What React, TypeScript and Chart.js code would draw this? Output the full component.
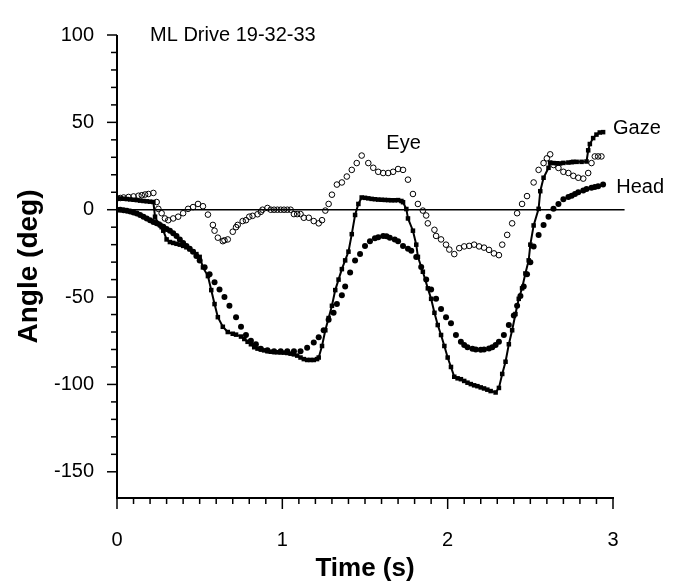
import React, { useEffect, useRef } from 'react';
import { Chart, registerables } from 'chart.js';

Chart.register(...registerables);

// ---------- data ----------
const gazeTime = [0.00,0.02,0.04,0.06,0.08,0.10,0.12,0.14,0.16,0.18,0.20,0.22,0.23,0.25,0.27,0.28,0.30,0.32,0.34,0.36,0.38,0.40,0.42,0.44,0.46,0.48,0.50,0.52,0.55,0.57,0.59,0.61,0.64,0.67,0.70,0.72,0.75,0.77,0.79,0.81,0.83,0.85,0.87,0.89,0.91,0.93,0.95,0.97,0.99,1.01,1.03,1.05,1.07,1.09,1.11,1.13,1.15,1.17,1.19,1.21,1.22,1.24,1.26,1.28,1.30,1.32,1.34,1.36,1.38,1.40,1.42,1.44,1.46,1.48,1.50,1.52,1.54,1.56,1.58,1.60,1.62,1.64,1.66,1.68,1.70,1.72,1.73,1.75,1.76,1.79,1.81,1.82,1.85,1.88,1.90,1.92,1.94,1.96,1.98,2.00,2.02,2.04,2.06,2.08,2.10,2.12,2.14,2.16,2.18,2.20,2.22,2.24,2.26,2.29,2.31,2.33,2.35,2.37,2.39,2.41,2.43,2.45,2.47,2.49,2.50,2.52,2.55,2.56,2.58,2.61,2.62,2.64,2.66,2.68,2.70,2.73,2.75,2.76,2.78,2.81,2.84,2.85,2.86,2.88,2.90,2.92,2.94];
const gazeAngle = [6.5,6.4,6.3,6.1,5.9,5.7,5.5,5.2,5.0,4.8,4.6,4.4,-4,-8,-10,-12,-17,-18.5,-19,-19.5,-20,-20.7,-21.5,-22.6,-24,-25.4,-27,-33,-38,-46,-54,-61.5,-67,-70,-71,-71.5,-72.6,-74,-75.6,-77,-78.7,-79.5,-80,-80.5,-81,-81.3,-81.5,-81.6,-81.7,-81.8,-82,-82.4,-82.8,-83.5,-84.6,-85.5,-86,-86,-86,-85.5,-84.6,-78,-69,-62,-55,-46,-40,-34,-29,-24,-14,-3,3.3,7,6.8,6.5,6.2,6.0,5.8,5.7,5.6,5.5,5.4,5.4,5.5,5.0,4.3,0.4,-5,-12,-20,-27,-35.5,-45,-51,-59,-66,-71.7,-78,-84.6,-90,-95.6,-96.5,-97,-98,-99,-99.8,-100.5,-101,-101.7,-102.3,-103,-103.8,-104.6,-102,-94,-87,-77,-69,-59.7,-51,-45,-36.5,-29,-20,-9,0.5,10.6,18.3,24,27,26.7,26.6,26.5,26.8,27,27.2,27.4,27.4,27.4,27.6,34,37.6,41,43,44.2,44.4];

const headTime = [0.00,0.02,0.04,0.06,0.08,0.10,0.12,0.14,0.16,0.18,0.20,0.22,0.24,0.26,0.28,0.30,0.32,0.34,0.36,0.38,0.40,0.42,0.44,0.46,0.48,0.50,0.53,0.56,0.59,0.62,0.65,0.68,0.72,0.75,0.78,0.81,0.84,0.87,0.91,0.95,0.99,1.03,1.07,1.11,1.15,1.19,1.22,1.25,1.28,1.31,1.33,1.36,1.38,1.41,1.44,1.47,1.50,1.53,1.56,1.58,1.61,1.63,1.65,1.68,1.70,1.73,1.76,1.78,1.81,1.84,1.87,1.90,1.93,1.96,1.99,2.02,2.05,2.08,2.10,2.12,2.15,2.17,2.20,2.22,2.25,2.27,2.29,2.31,2.34,2.37,2.40,2.42,2.44,2.46,2.48,2.50,2.52,2.55,2.58,2.61,2.64,2.67,2.70,2.73,2.75,2.77,2.79,2.82,2.84,2.87,2.89,2.91,2.94];
const headAngle = [0,0,-0.3,-0.6,-1,-1.6,-2.2,-3,-4,-5,-6,-7,-7.8,-8.7,-9.8,-11,-12,-13.5,-15,-17,-19,-20.7,-22.4,-24,-26.5,-29,-33,-37,-41.5,-45.7,-50,-55,-61.5,-67,-71.7,-75,-77,-79.6,-80.5,-81,-81,-81,-81,-81,-79,-76,-73,-69,-63,-59,-54,-49,-44,-36,-29,-25.4,-20.7,-18,-16.3,-15.7,-15,-15.2,-16,-17,-18,-20.7,-22.3,-23.5,-27,-32.8,-40,-45.7,-51,-56.8,-61.5,-65,-71.7,-75.6,-77.5,-78.7,-79.6,-80,-80.2,-80,-79.5,-78.7,-77.5,-75.6,-71.7,-66,-60.5,-55,-49.4,-44,-37,-30,-21,-14.4,-8.7,-4,0.5,3.3,6,7.3,8,9,10,11,11.8,12.6,13,13.5,14.4];

const eyeTime = [0.00,0.02,0.04,0.07,0.10,0.13,0.15,0.17,0.19,0.22,0.24,0.25,0.27,0.29,0.31,0.34,0.37,0.40,0.43,0.46,0.49,0.52,0.55,0.58,0.59,0.61,0.64,0.65,0.67,0.70,0.72,0.73,0.76,0.78,0.80,0.82,0.85,0.87,0.88,0.91,0.93,0.95,0.97,0.99,1.01,1.03,1.05,1.07,1.09,1.11,1.13,1.16,1.19,1.22,1.24,1.26,1.28,1.30,1.33,1.36,1.39,1.42,1.45,1.48,1.52,1.55,1.58,1.61,1.64,1.67,1.70,1.73,1.76,1.79,1.82,1.85,1.87,1.88,1.92,1.93,1.96,1.99,2.01,2.04,2.07,2.10,2.13,2.16,2.19,2.22,2.25,2.28,2.31,2.33,2.36,2.39,2.42,2.45,2.48,2.52,2.55,2.58,2.60,2.62,2.64,2.67,2.70,2.73,2.76,2.79,2.82,2.85,2.87,2.89,2.91,2.93];
const eyeAngle = [6.5,6.7,7,7.3,7.6,8,8.3,8.7,9,9.6,4.4,0.5,-2,-5,-6,-5,-4,-2,0.5,1.5,3.3,2,-2.8,-8.7,-12,-16,-18,-17.5,-17,-12.6,-10,-8.7,-6.5,-6,-4,-3.5,-2.6,-1.2,0,1,0,0,0,0,0,0,0,-2.5,-2.5,-2.5,-4.6,-4.6,-6.5,-7.8,-6,-0.5,3.3,8.6,14.4,15.6,19,22.8,26.7,31,26.7,24,21.7,21,21,21.7,23.3,22.8,17.2,9,3.3,-0.5,-3.3,-7.8,-11.5,-15,-17,-20,-22.8,-25.4,-22,-21,-20.7,-20,-21,-21.7,-23,-25,-26,-20,-14.4,-7.8,-2,3.3,7.8,15.6,22.8,26.7,29.4,31.7,25.6,23.9,21.7,21,19.4,18.3,17.8,21,26.7,30.5,30.5,30.5];

const zeroLineTime = [0, 3.07];
const zeroLineAngle = [0, 0];

const xTickValues = [0, 1, 2, 3];
const yTickValues = [-150, -100, -50, 0, 50, 100];

const X_MIN = 0;
const X_MAX = 3;
const Y_MIN = -165;
const Y_MAX = 100;

const chartTitle = 'ML Drive 19-32-33';
const seriesLabels = [
  { text: 'Eye', x: 1.733, y: 37.8, align: 'center' },
  { text: 'Gaze', x: 3.0, y: 46.7, align: 'left' },
  { text: 'Head', x: 3.02, y: 12.8, align: 'left' },
];

const FONT = '"Liberation Sans", Arial, Helvetica, sans-serif';

const toPoints = (t: number[], v: number[]) => t.map((tt, i) => ({ x: tt, y: v[i] }));

const decorPlugin = {
  id: 'decor',
  afterDraw(chart: any) {
    const { ctx, scales } = chart;
    const xs = scales.x;
    const ys = scales.y;
    const x0 = xs.getPixelForValue(X_MIN);
    const x3 = xs.getPixelForValue(X_MAX);
    const yTop = ys.getPixelForValue(Y_MAX);
    const yBot = ys.getPixelForValue(Y_MIN);
    ctx.save();
    ctx.strokeStyle = '#000';
    ctx.lineCap = 'butt';
    ctx.lineWidth = 2;
    ctx.beginPath();
    ctx.moveTo(x0, yTop);
    ctx.lineTo(x0, yBot + 1);
    ctx.stroke();
    ctx.beginPath();
    ctx.moveTo(x0 - 1, yBot);
    ctx.lineTo(x3 + 1, yBot);
    ctx.stroke();
    ctx.lineWidth = 1.5;
    for (let v = -150; v <= 100; v += 10) {
      const p = ys.getPixelForValue(v);
      const len = v % 50 === 0 ? 10 : 6;
      ctx.beginPath();
      ctx.moveTo(x0 - len, p);
      ctx.lineTo(x0, p);
      ctx.stroke();
    }
    for (let i = 0; i <= 30; i++) {
      const p = xs.getPixelForValue(i / 10);
      const len = i % 10 === 0 ? 11 : 6;
      ctx.beginPath();
      ctx.moveTo(p, yBot);
      ctx.lineTo(p, yBot + len);
      ctx.stroke();
    }
    ctx.fillStyle = '#000';
    ctx.font = `20px ${FONT}`;
    ctx.textBaseline = 'middle';
    ctx.textAlign = 'left';
    ctx.fillText(chartTitle, xs.getPixelForValue(0.2), ys.getPixelForValue(Y_MAX));
    seriesLabels.forEach((l) => {
      ctx.textAlign = l.align as CanvasTextAlign;
      ctx.fillText(l.text, xs.getPixelForValue(l.x), ys.getPixelForValue(l.y));
    });
    ctx.restore();
  },
};

export default function App() {
  const ref = useRef<HTMLCanvasElement | null>(null);
  useEffect(() => {
    document.body.style.margin = '0';
    const canvas = ref.current;
    if (!canvas) return;
    const chart = new Chart(canvas, {
      type: 'line',
      data: {
        datasets: [
          {
            label: 'Eye',
            data: toPoints(eyeTime, eyeAngle),
            showLine: false,
            pointStyle: 'circle',
            pointRadius: 2.8,
            pointBorderWidth: 1,
            pointBorderColor: '#000',
            pointBackgroundColor: 'rgba(255,255,255,0)',
            borderColor: '#000',
          },
          {
            label: 'Gaze',
            data: toPoints(gazeTime, gazeAngle),
            showLine: true,
            borderColor: '#000',
            borderWidth: 2,
            pointStyle: 'rect',
            pointRadius: 3.2,
            pointBorderWidth: 0,
            pointBackgroundColor: '#000',
            tension: 0,
          },
          {
            label: 'Head',
            data: toPoints(headTime, headAngle),
            showLine: false,
            pointStyle: 'circle',
            pointRadius: 3,
            pointBorderWidth: 0,
            pointBackgroundColor: '#000',
            borderColor: '#000',
          },
          {
            label: 'zero',
            data: toPoints(zeroLineTime, zeroLineAngle),
            showLine: true,
            borderColor: '#000',
            borderWidth: 1.6,
            pointRadius: 0,
            clip: false as any,
          },
        ],
      },
      options: {
        responsive: false,
        animation: false,
        devicePixelRatio: 1,
        layout: { padding: { top: 21, right: 68, left: 0, bottom: 0 } },
        plugins: { legend: { display: false }, tooltip: { enabled: false }, title: { display: false } },
        scales: {
          x: {
            type: 'linear',
            min: X_MIN,
            max: X_MAX,
            afterFit: (s: any) => { s.height = 84; },
            grid: { display: false, drawTicks: false },
            border: { display: false },
            ticks: {
              stepSize: 1,
              autoSkip: false,
              padding: 30,
              color: '#000',
              font: { family: FONT, size: 20 },
              callback: (v: any) => (xTickValues.includes(Math.round(Number(v) * 1000) / 1000) ? String(v) : ''),
            },
            title: {
              display: true,
              text: 'Time (s)',
              color: '#000',
              font: { family: FONT, size: 26, weight: 'bold', lineHeight: 1 },
              padding: { top: 0, bottom: 0 },
            },
          },
          y: {
            type: 'linear',
            min: Y_MIN,
            max: Y_MAX,
            afterFit: (s: any) => { s.width = 117; },
            grid: { display: false, drawTicks: false },
            border: { display: false },
            ticks: {
              stepSize: 50,
              includeBounds: false,
              autoSkip: false,
              padding: 23,
              color: '#000',
              font: { family: FONT, size: 20 },
              callback: (v: any) => (yTickValues.includes(Number(v)) ? String(v) : ''),
            },
            title: {
              display: true,
              text: 'Angle (deg)',
              color: '#000',
              font: { family: FONT, size: 28, weight: 'bold', lineHeight: 1 },
              padding: { top: 15, bottom: 0 },
            },
          },
        },
      },
      plugins: [decorPlugin],
    });
    return () => chart.destroy();
  }, []);
  return <canvas ref={ref} width={681} height={582} style={{ display: 'block' }} />;
}
